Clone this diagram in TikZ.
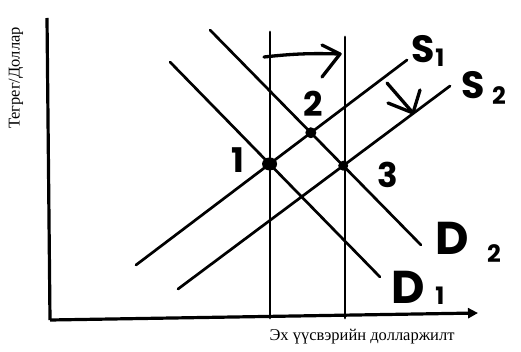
\documentclass[tikz,border=0pt]{standalone}
\usepackage{fontspec}
\setmainfont{Liberation Serif}
\newfontfamily\hand{Poppins}
\usetikzlibrary{intersections,arrows.meta}
\begin{document}
\begin{tikzpicture}[x=1pt,y=-1pt,
  curve/.style={line width=2.7pt,line cap=round},
  axis/.style={line width=3.2pt},
  lbl/.style={font=\hand\bfseries\fontsize{38}{38}\selectfont,inner sep=0pt},
  dlbl/.style={font=\hand\bfseries\fontsize{46}{46}\selectfont,inner sep=0pt},
  sub/.style={font=\hand\bfseries\fontsize{24}{24}\selectfont,inner sep=0pt},
  num/.style={font=\hand\bfseries\fontsize{34}{34}\selectfont,inner sep=0pt},
  dot/.style={fill=black}]
\useasboundingbox (0,0) rectangle (521,352);
% axes
\coordinate (ytop) at (47,18);
\coordinate (orig) at (50,320);
\coordinate (xend) at (478,313);
\draw[axis] (ytop) -- (orig);
\draw[axis,-{Triangle[length=10pt,width=10pt]}] (orig) -- (xend);
% verticals
\coordinate (v1t) at (270,32); \coordinate (v1b) at (270,318);
\coordinate (v2t) at (345,37); \coordinate (v2b) at (345,318);
\draw[curve] (v1t) -- (v1b);
\draw[curve] (v2t) -- (v2b);
% demand/supply
\coordinate (d1a) at (170,62);  \coordinate (d1b) at (380,277);
\coordinate (d2a) at (210,30);  \coordinate (d2b) at (421,245);
\coordinate (s1a) at (136,265); \coordinate (s1b) at (407,60);
\coordinate (s2a) at (178,289); \coordinate (s2b) at (450,86);
\draw[curve,name path=D1] (d1a) -- (d1b);
\draw[curve,name path=D2] (d2a) -- (d2b);
\draw[curve,name path=S1] (s1a) -- (s1b);
\draw[curve,name path=S2] (s2a) -- (s2b);
\path[name intersections={of=D1 and S1,by=p1}];
\path[name intersections={of=D2 and S1,by=p2}];
\path[name intersections={of=D2 and S2,by=p3}];
\fill[dot] (p1) ellipse [x radius=7.5, y radius=6.5];
\fill[dot] (p2) circle [radius=5.5];
\fill[dot] (p3) circle [radius=5];
% shift arrows
\coordinate (ha) at (264,57); \coordinate (hb) at (340,54);
\coordinate (hu) at (322,45); \coordinate (hl) at (322,77);
\draw[curve,line width=3.3pt,line join=round] (ha) to[bend left=4] (hb);
\draw[curve,line width=3.3pt,line join=round] (hu) -- (hb) -- (hl);
\coordinate (da) at (387,83); \coordinate (db) at (413,113);
\coordinate (dl) at (388,103); \coordinate (dr) at (420,90);
\draw[curve,line width=3.3pt] (da) -- (db);
\draw[curve,line width=3.3pt,line join=round] (dl) -- (db) -- (dr);
% labels
\node[lbl] (S1) at (423,49) {S};
\node[sub] (S1i) at (440,58) {1};
\node[lbl] (S2) at (473,85) {S};
\node[sub] (S2i) at (499,96) {2};
\node[dlbl] (D2) at (452,238) {D};
\node[sub] (D2i) at (494,254) {2};
\node[dlbl] (D1) at (408,287) {D};
\node[sub] (D1i) at (440,296) {1};
\node[num] (n1) at (238,160) {1};
\node[num] (n2) at (313,104) {2};
\node[num] (n3) at (388,175) {3};
% axis titles
\node[font=\fontsize{16.5}{16.5}\selectfont,rotate=90] (yl) at (16,78) {Тегрег/Доллар};
\node[font=\fontsize{16.5}{16.5}\selectfont] (xl) at (362,337) {Эх үүсвэрийн долларжилт};
\end{tikzpicture}
\end{document}
